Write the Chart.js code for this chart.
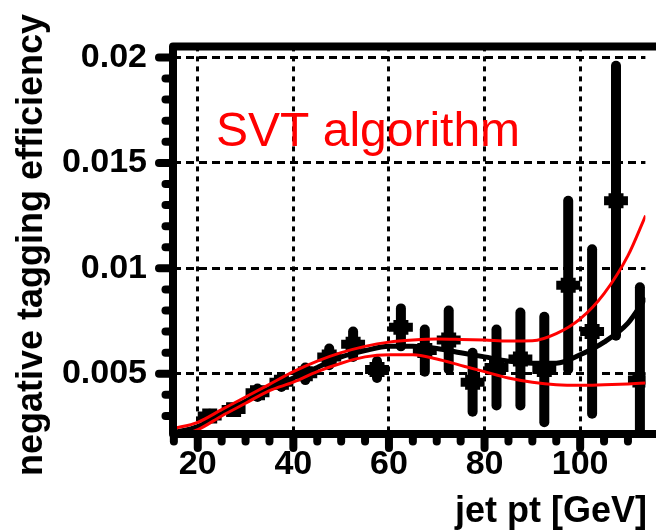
<!DOCTYPE html>
<html>
<head>
<meta charset="utf-8">
<script src="https://cdn.jsdelivr.net/npm/chart.js@4.4.1/dist/chart.umd.min.js"></script>
<style>
html,body{margin:0;padding:0;background:#fff;overflow:hidden}
#wrap{position:relative;width:656px;height:531px}
</style>
</head>
<body>
<div id="wrap"><canvas id="c" width="656" height="531"></canvas></div>
<script>
// ---- data ----
const binCenters = [22.5, 27.5, 32.5, 37.5, 42.5, 47.5, 52.5, 57.5, 62.5, 67.5, 72.5, 77.5, 82.5, 87.5, 92.5, 97.5, 102.5, 107.5, 112.5];
const efficiency = [0.0030, 0.0033, 0.0041, 0.0046, 0.0050, 0.0058, 0.0064, 0.0052, 0.0072, 0.0061, 0.0066, 0.0046, 0.0053, 0.0057, 0.0052, 0.0092, 0.0070, 0.0132, 0.0047];
const effError = [0.0001, 0.0001, 0.0002, 0.00023, 0.0003, 0.0004, 0.0006, 0.0004, 0.0009, 0.0010, 0.0014, 0.0014, 0.0018, 0.0022, 0.0025, 0.0040, 0.0039, 0.0064, 0.0044];
const binHalfWidth = 2.5;

const fitPt = [14.8, 20, 25, 30, 35, 40, 45, 50, 55, 60, 65, 70, 75, 80, 85, 90, 95, 100, 105, 110, 113.7];
const fitCentral = [0.0022, 0.0025, 0.0031, 0.0037, 0.0043, 0.0048, 0.0053, 0.0058, 0.0061, 0.0063, 0.0063, 0.0062, 0.0060, 0.0058, 0.0056, 0.0055, 0.0055, 0.0059, 0.0065, 0.0074, 0.0086];
const fitUpper = [0.0024, 0.0027, 0.0033, 0.0039, 0.0045, 0.0051, 0.0056, 0.0060, 0.0063, 0.0065, 0.0066, 0.00665, 0.00663, 0.0066, 0.00655, 0.00656, 0.0069, 0.0076, 0.0088, 0.0106, 0.0125];
const fitLower = [0.0020, 0.00235, 0.0030, 0.0036, 0.0042, 0.0046, 0.0051, 0.0055, 0.0058, 0.0059, 0.0059, 0.0057, 0.0054, 0.0051, 0.0048, 0.0046, 0.00448, 0.00445, 0.00448, 0.00452, 0.00456];

const xMajorTicks = [20, 40, 60, 80, 100];
const xMinorTicks = [15, 25, 30, 35, 45, 50, 55, 65, 70, 75, 85, 90, 95, 105, 110];
const yMajorTicks = [0.005, 0.01, 0.015, 0.02];
const yMinorTicks = [0.003, 0.004, 0.006, 0.007, 0.008, 0.009, 0.011, 0.012, 0.013, 0.014, 0.016, 0.017, 0.018, 0.019];

const xRange = [14.82, 113.65];
const yRange = [0.002144, 0.020523];

const xTitle = 'jet pt [GeV]';
const yTitle = 'negative tagging efficiency';
const annotationText = 'SVT algorithm';

const FONT = '"Liberation Sans", Arial, Helvetica, sans-serif';

const toXY = (xs, ys) => xs.map((v, i) => ({x: v, y: ys[i]}));

const decor = {
  id: 'decor',
  beforeDatasetsDraw(chart) {
    const {ctx, chartArea: a, scales: {x, y}} = chart;
    ctx.save();
    ctx.beginPath();
    ctx.rect(a.left, a.top, a.right - a.left, a.bottom - a.top);
    ctx.clip();
    ctx.strokeStyle = '#000';
    ctx.lineWidth = 9;
    ctx.lineCap = 'butt';
    binCenters.forEach((c, i) => {
      const py = y.getPixelForValue(efficiency[i]);
      ctx.beginPath();
      ctx.moveTo(x.getPixelForValue(c - binHalfWidth), py);
      ctx.lineTo(x.getPixelForValue(c + binHalfWidth), py);
      ctx.stroke();
    });
    ctx.lineWidth = 10;
    ctx.lineCap = 'round';
    binCenters.forEach((c, i) => {
      const px = x.getPixelForValue(c);
      ctx.beginPath();
      ctx.moveTo(px, y.getPixelForValue(efficiency[i] - effError[i]));
      ctx.lineTo(px, y.getPixelForValue(efficiency[i] + effError[i]));
      ctx.stroke();
    });
    ctx.restore();
  },
  afterDatasetsDraw(chart) {
    const {ctx, chartArea: a, scales: {x, y}} = chart;
    ctx.save();
    // frame
    ctx.strokeStyle = '#000';
    ctx.lineWidth = 8;
    ctx.lineJoin = 'round';
    ctx.beginPath();
    ctx.moveTo(a.right + 20, a.top);
    ctx.lineTo(a.left, a.top);
    ctx.lineTo(a.left, a.bottom);
    ctx.lineTo(a.right + 20, a.bottom);
    ctx.stroke();
    // tick marks
    ctx.lineCap = 'round';
    ctx.lineWidth = 8;
    const yTick = (v, len) => {
      const p = y.getPixelForValue(v);
      ctx.beginPath(); ctx.moveTo(a.left, p); ctx.lineTo(a.left - len, p); ctx.stroke();
    };
    const xTick = (v, len) => {
      const p = x.getPixelForValue(v);
      ctx.beginPath(); ctx.moveTo(p, a.bottom); ctx.lineTo(p, a.bottom + len); ctx.stroke();
    };
    yMajorTicks.forEach(v => yTick(v, 14));
    yMinorTicks.forEach(v => yTick(v, 7.5));
    xMajorTicks.forEach(v => xTick(v, 14));
    xMinorTicks.forEach(v => xTick(v, 7.5));
    // annotation
    ctx.fillStyle = '#ff0000';
    ctx.font = '48px ' + FONT;
    ctx.textAlign = 'left';
    ctx.textBaseline = 'alphabetic';
    ctx.fillText(annotationText, 216, 146);
    // axis titles
    ctx.fillStyle = '#000';
    ctx.font = 'bold 36px ' + FONT;
    ctx.textAlign = 'right';
    ctx.fillText(xTitle, 647, 522);
    ctx.translate(41.5, 245);
    ctx.rotate(-Math.PI / 2);
    ctx.textAlign = 'center';
    ctx.fillText(yTitle, 0, 0);
    ctx.restore();
  }
};

new Chart(document.getElementById('c'), {
  type: 'scatter',
  data: {
    datasets: [
      {data: toXY(fitPt, fitUpper), showLine: true, borderColor: '#ff0000', borderWidth: 3, pointRadius: 0, cubicInterpolationMode: 'monotone', fill: false},
      {data: toXY(fitPt, fitLower), showLine: true, borderColor: '#ff0000', borderWidth: 3, pointRadius: 0, cubicInterpolationMode: 'monotone', fill: false},
      {data: toXY(fitPt, fitCentral), showLine: true, borderColor: '#000', borderWidth: 5, pointRadius: 0, cubicInterpolationMode: 'monotone', fill: false},
      {data: toXY(binCenters, efficiency), showLine: false, pointStyle: 'rect', pointRadius: 10.6, backgroundColor: '#000', borderWidth: 0}
    ]
  },
  options: {
    responsive: false,
    animation: false,
    devicePixelRatio: 1,
    layout: {padding: {top: 37, left: 0, right: 0, bottom: 0}},
    plugins: {legend: {display: false}, tooltip: {enabled: false}},
    scales: {
      x: {
        type: 'linear', min: xRange[0], max: xRange[1],
        afterFit: s => { s.height = 97; },
        afterBuildTicks: s => { s.ticks = xMajorTicks.map(v => ({value: v})); },
        grid: {color: '#000', lineWidth: 3, drawTicks: false},
        border: {display: false, dash: [5, 5]},
        ticks: {color: '#000', font: {family: FONT, size: 34, weight: 'bold'}, padding: 10, maxRotation: 0, autoSkip: false, callback: v => String(v)}
      },
      y: {
        type: 'linear', min: yRange[0], max: yRange[1],
        afterFit: s => { s.width = 173; },
        afterBuildTicks: s => { s.ticks = yMajorTicks.map(v => ({value: v})); },
        grid: {color: '#000', lineWidth: 3, drawTicks: false},
        border: {display: false, dash: [8, 5]},
        ticks: {color: '#000', font: {family: FONT, size: 34, weight: 'bold'}, padding: 26, autoSkip: false, callback: v => String(v)}
      }
    }
  },
  plugins: [decor]
});
</script>
</body>
</html>
